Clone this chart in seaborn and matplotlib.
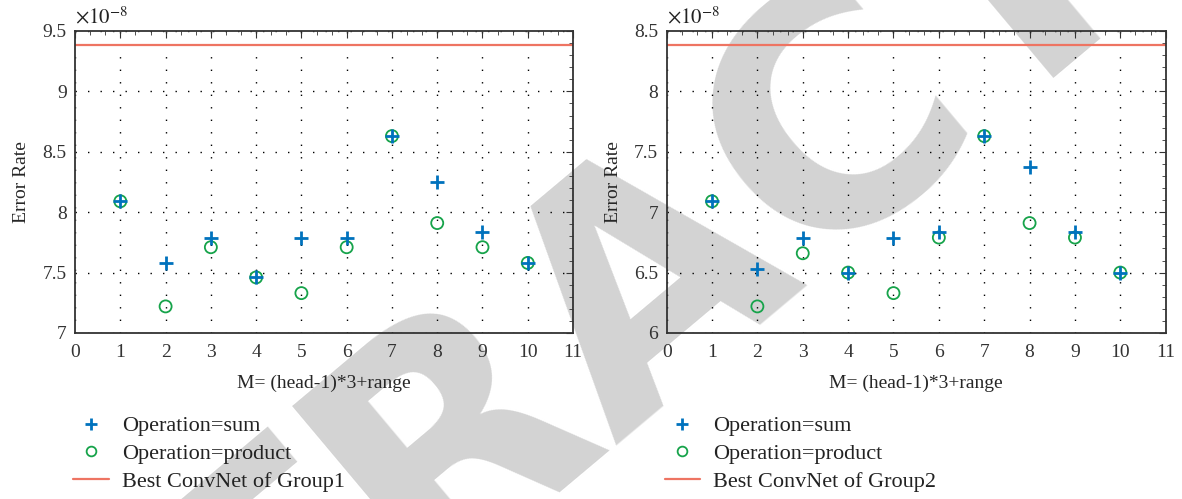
"""
Error rate vs M for the two ConvNet groups (sum vs product operation).
"""

import numpy as np
import pandas as pd
import matplotlib
matplotlib.use("Agg")
import matplotlib.pyplot as plt
import seaborn as sns
from matplotlib.lines import Line2D
from matplotlib.ticker import AutoMinorLocator, FormatStrFormatter

sns.set_style("white")
plt.rcParams.update({
    "font.family": ["Liberation Serif", "DejaVu Serif"],
    "mathtext.fontset": "stix",
    "axes.edgecolor": "#333333",
    "xtick.color": "#333333",
    "ytick.color": "#333333",
    "text.color": "#222222",
})

# valores em unidades de 1e-8
M_VALUES = [1, 2, 3, 4, 5, 6, 7, 8, 9, 10]
SUM_G1 = [8.09, 7.58, 7.79, 7.46, 7.79, 7.79, 8.63, 8.25, 7.84, 7.58]
PROD_G1 = [8.09, 7.22, 7.71, 7.46, 7.33, 7.71, 8.63, 7.91, 7.71, 7.58]
BEST_G1 = 9.38
SUM_G2 = [7.09, 6.53, 6.79, 6.50, 6.79, 6.84, 7.63, 7.37, 6.84, 6.50]
PROD_G2 = [7.09, 6.22, 6.66, 6.50, 6.33, 6.79, 7.63, 6.91, 6.79, 6.50]
BEST_G2 = 8.38
YLIMS = [(7, 9.5), (6, 8.5)]
GROUPS = ["Group1", "Group2"]

BLUE = "#0072BD"
GREEN = "#16A34A"
RED = "#EE7462"

fig = plt.figure(figsize=(11.82, 4.99), dpi=100)
# marca d'água
fig.text(0.55, 0.45, "RETRACTED", rotation=40, fontsize=235, color="#d3d3d3",
         ha="center", va="center", family="DejaVu Sans", fontweight="bold",
         zorder=-5)

posicoes = [[0.0635, 0.3327, 0.4213, 0.6052], [0.564, 0.3327, 0.4222, 0.6052]]
series = [(SUM_G1, PROD_G1, BEST_G1), (SUM_G2, PROD_G2, BEST_G2)]

for i, (pos, (soma, prod, best)) in enumerate(zip(posicoes, series)):
    ax = fig.add_axes(pos)
    ax.patch.set_alpha(0)
    df = pd.DataFrame({"M": M_VALUES, "sum": soma, "product": prod})

    ax.axhline(best, color=RED, lw=1.6, zorder=2)
    sns.scatterplot(data=df, x="M", y="product", marker="o", s=75,
                    facecolor="none", edgecolor=GREEN, linewidth=1.3,
                    ax=ax, zorder=3)
    sns.scatterplot(data=df, x="M", y="sum", marker="+", s=110,
                    color=BLUE, linewidth=2.0, ax=ax, zorder=4)

    ax.set_xlim(0, 11)
    ax.set_ylim(*YLIMS[i])
    ax.set_xticks(range(0, 12))
    ax.set_yticks(np.arange(YLIMS[i][0], YLIMS[i][1] + 0.01, 0.5))
    ax.yaxis.set_major_formatter(FormatStrFormatter("%g"))
    ax.xaxis.set_minor_locator(AutoMinorLocator(3))
    ax.yaxis.set_minor_locator(AutoMinorLocator(5))
    ax.tick_params(which="both", direction="in", top=True, right=True,
                   labelsize=14)
    ax.tick_params(which="major", length=5, width=0.8)
    ax.tick_params(which="minor", length=3, width=0.6)
    ax.tick_params(axis="x", which="major", pad=8)
    ax.tick_params(axis="y", which="major", pad=6)
    ax.grid(True, which="major", color="black", lw=1.0,
            linestyle=(0, (1, 8)))
    for s in ax.spines.values():
        s.set_linewidth(1.3)

    ax.set_xlabel("M= (head-1)*3+range", fontsize=14, labelpad=10)
    ax.set_ylabel("Error Rate", fontsize=14, labelpad=9)
    ax.text(0.0, 1.008, r"$\times10^{-8}$", transform=ax.transAxes,
            fontsize=15, ha="left", va="bottom")

    handles = [
        Line2D([], [], marker="+", ls="none", color=BLUE, ms=9, mew=2),
        Line2D([], [], marker="o", ls="none", mfc="none", mec=GREEN, ms=7,
               mew=1.3),
        Line2D([], [], color=RED, lw=1.6),
    ]
    labels = ["Operation=sum", "Operation=product",
              f"Best ConvNet of {GROUPS[i]}"]
    ax.legend(handles, labels, loc="upper left", bbox_to_anchor=(-0.022, -0.245),
              frameon=False, fontsize=16, handlelength=1.6, handletextpad=0.6,
              labelspacing=0.32, borderaxespad=0)

fig.savefig("out.png", dpi=100)
